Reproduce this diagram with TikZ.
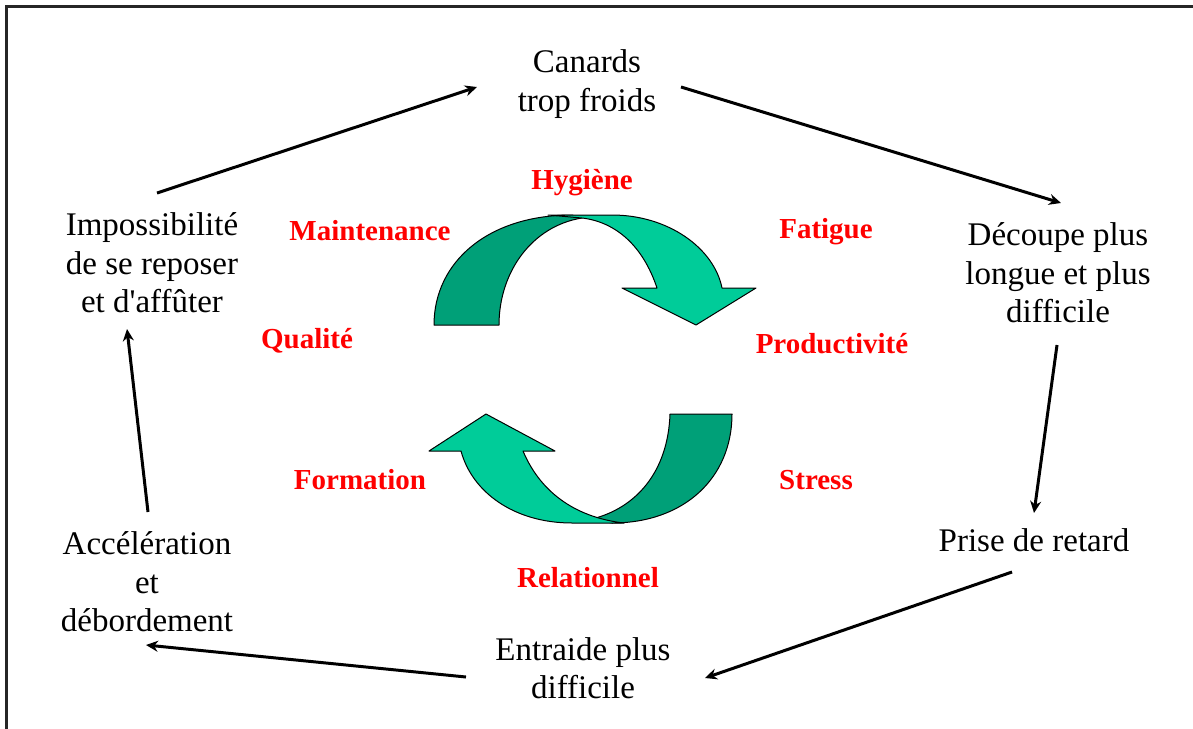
\documentclass[tikz,border=0pt]{standalone}
\usepackage{fontspec}
\setmainfont{Liberation Serif}
\usetikzlibrary{arrows.meta, calc}
\definecolor{cycle-dark}{HTML}{00A078}
\definecolor{cycle-light}{HTML}{00CC99}
\definecolor{label-red}{HTML}{FF0000}

\begin{document}
\begin{tikzpicture}[x=1pt, y=-1pt,
    step text/.style={align=center, inner sep=0pt,
      font=\fontsize{33}{38.5}\selectfont},
    factor/.style={inner sep=0pt, text=label-red,
      font=\fontsize{29}{33}\selectfont\bfseries},
    loop arrow/.style={-{Stealth[length=12pt, width=11pt]}, line width=3pt},
    band/.style={draw=black, line width=1pt, line join=round}]
    \useasboundingbox (0,0) rectangle (1193,728);
    \draw[line width=3pt, color=black!85] (6.5,6.5) rectangle (1210,750);
    % outer loop
    \node[step text] (can) at (587, 84) {Canards\\trop froids};
    \node[step text] (dec) at (1058, 273) {D\'ecoupe plus\\longue et plus\\difficile};
    \node[step text] (pri) at (1034, 540) {Prise de retard};
    \node[step text] (ent) at (583, 668) {Entraide plus\\difficile};
    \node[step text] (acc) at (147, 582) {Acc\'el\'eration\\et\\d\'ebordement};
    \node[step text] (imp) at (152, 263) {Impossibilit\'e\\de se reposer\\et d\textquotesingle aff\^uter};
    \draw[loop arrow] ($(imp)+(5,-70)$) -- ($(can)+(-110,3)$);
    \draw[loop arrow] ($(can)+(94,3)$) -- ($(dec)+(3,-70)$);
    \draw[loop arrow] ($(dec)+(-1,72)$) -- ($(pri)+(0,-27)$);
    \draw[loop arrow] ($(pri)+(-22,32)$) -- ($(ent)+(122,10)$);
    \draw[loop arrow] ($(ent)+(-117,9)$) -- ($(acc)+(-1,63)$);
    \draw[loop arrow] ($(acc)+(1,-70)$) -- ($(imp)+(-25,66)$);
    % upper curved arrow
    \draw[band, fill=cycle-dark] (434,325)
      .. controls (434,262) and (488,215) .. (572,215)
      -- (582,218) .. controls (532,226) and (499,272) .. (499,325) -- cycle;
    \draw[band, fill=cycle-light] (548,215) -- (612,215)
      .. controls (668,215) and (714,248) .. (722,288)
      -- (756,288) -- (696,325) -- (622,288) -- (657,288)
      .. controls (643,246) and (616,222) .. (582,218) -- cycle;
    % lower curved arrow
    \draw[band, fill=cycle-dark] (732,414)
      .. controls (732,478) and (684,523) .. (612,523)
      -- (592,519) .. controls (636,508) and (668,472) .. (670,414) -- cycle;
    \draw[band, fill=cycle-light] (486,414) -- (555,451) -- (523,451)
      .. controls (542,496) and (580,518) .. (624,523)
      -- (572,523) .. controls (514,523) and (472,492) .. (461,451)
      -- (429,451) -- cycle;
    % factors
    \node[factor] (hyg) at (582, 183) {Hygi\`ene};
    \node[factor] (mai) at (370, 231) {Maintenance};
    \node[factor] (fat) at (826, 232) {Fatigue};
    \node[factor] (qua) at (307, 341) {Qualit\'e};
    \node[factor] (pro) at (832, 344) {Productivit\'e};
    \node[factor] (for) at (360, 480) {Formation};
    \node[factor] (str) at (816, 480) {Stress};
    \node[factor] (rel) at (588, 578) {Relationnel};
  \end{tikzpicture}
\end{document}
